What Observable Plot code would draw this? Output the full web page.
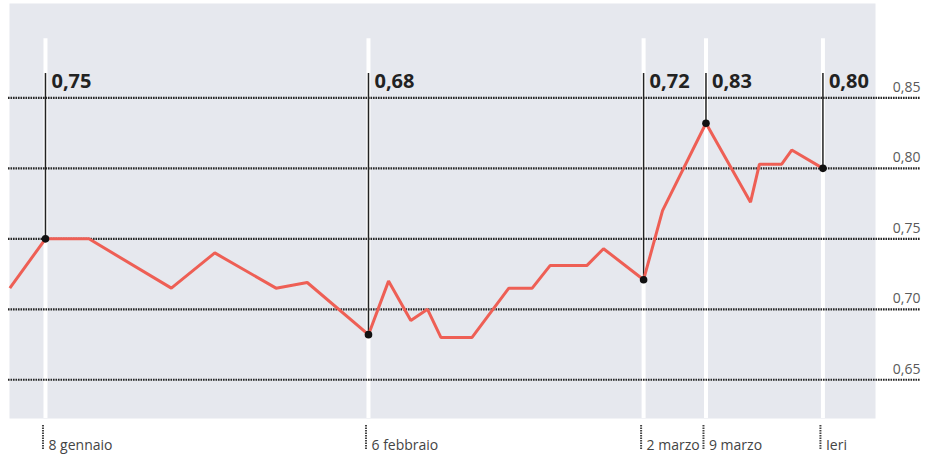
<!DOCTYPE html>
<html>
<head>
<meta charset="utf-8">
<script src="https://cdn.jsdelivr.net/npm/d3@7"></script>
<script src="https://cdn.jsdelivr.net/npm/@observablehq/plot@0.6"></script>
<style>
  html, body { margin: 0; padding: 0; background: #fff; }
  #chart svg { display: block; }
</style>
</head>
<body>
<div id="chart"></div>
<script>
// Day of year (fractional) and values
const giorni = [4.8, 8, 11.9, 19.3, 23.2, 28.7, 31.5, 37, 38.8, 40.8, 42.3, 43.5, 46.3, 49.6, 51.7, 53.3, 56.6, 58.1, 61.7, 63.4, 67.3, 71.3, 72.1, 74.1, 75.0, 77.8];
const valori = [0.715, 0.75, 0.75, 0.715, 0.740, 0.715, 0.719, 0.682, 0.72, 0.692, 0.70, 0.68, 0.68, 0.715, 0.715, 0.731, 0.731, 0.743, 0.721, 0.770, 0.832, 0.776, 0.803, 0.803, 0.813, 0.80];

// Highlighted dates
const eventiGiorno = [8, 37, 61.7, 67.3, 77.8];
const eventiValore = [0.75, 0.682, 0.721, 0.832, 0.80];
const eventiEtichetta = ["0,75", "0,68", "0,72", "0,83", "0,80"];
const eventiData = ["8 gennaio", "6 febbraio", "2 marzo", "9 marzo", "Ieri"];

// Y ticks
const yTicks = [0.65, 0.70, 0.75, 0.80, 0.85];
const yTickLabels = ["0,65", "0,70", "0,75", "0,80", "0,85"];

const serie = giorni.map((g, i) => ({g, v: valori[i]}));
const eventi = eventiGiorno.map((g, i) => ({g, v: eventiValore[i], lab: eventiEtichetta[i], data: eventiData[i]}));
const ticks = yTicks.map((v, i) => ({v, lab: yTickLabels[i]}));

const xDom = [4.77, 82.52];
const yDom = [0.6225, 0.917];
const xGridL = 4.68, xGridR = 86.56;
const yWhiteTop = 0.892, yBlackTop = 0.8673;
const yTick1 = 0.6175, yTick2 = 0.5998;

const font = "'Open Sans', 'DejaVu Sans', sans-serif";

const chart = Plot.plot({
  width: 936,
  height: 459,
  marginLeft: 9,
  marginRight: 61,
  marginTop: 3,
  marginBottom: 41,
  x: {domain: xDom, axis: null},
  y: {domain: yDom, axis: null},
  style: {fontFamily: font, background: "#fff", overflow: "visible"},
  marks: [
    Plot.frame({fill: "#e6e8ee", stroke: null}),
    // white vertical lines
    Plot.ruleX(eventi, {x: "g", y1: yDom[0], y2: yWhiteTop, stroke: "#fff", strokeWidth: 4}),
    // dotted grid
    Plot.ruleY(ticks, {y: "v", x1: xGridL, x2: xGridR, stroke: "#262626", strokeWidth: 2.2, strokeDasharray: "1.6,0.9"}),
    // y labels
    Plot.text(ticks, {x: xGridR, y: "v", text: "lab", textAnchor: "end", lineAnchor: "bottom", dy: -6, fontSize: 14, fill: "#5a5a5a", letterSpacing: 0.6}),
    // black leader lines
    Plot.ruleX(eventi, {x: "g", y1: "v", y2: yBlackTop, stroke: "#222", strokeWidth: 1.5}),
    // the series
    Plot.line(serie, {x: "g", y: "v", stroke: "#ee5f55", strokeWidth: 3, strokeLinejoin: "miter", strokeLinecap: "butt"}),
    // dots
    Plot.dot(eventi, {x: "g", y: "v", r: 3.8, fill: "#111", stroke: null}),
    // value labels
    Plot.text(eventi, {x: "g", y: yBlackTop, text: "lab", textAnchor: "start", lineAnchor: "top", dx: 6, dy: 0, fontSize: 20, fontWeight: 700, fill: "#222", letterSpacing: 1.1}),
    // bottom dotted ticks
    Plot.ruleX(eventi, {x: "g", y1: yTick1, y2: yTick2, dx: -2.5, stroke: "#444", strokeWidth: 2, strokeDasharray: "1.5,1"}),
    // date labels
    Plot.text(eventi, {x: "g", y: yDom[0], text: "data", textAnchor: "start", lineAnchor: "bottom", dx: 3, dy: 31, fontSize: 14, fill: "#444"})
  ]
});
document.getElementById("chart").appendChild(chart);
</script>
</body>
</html>
